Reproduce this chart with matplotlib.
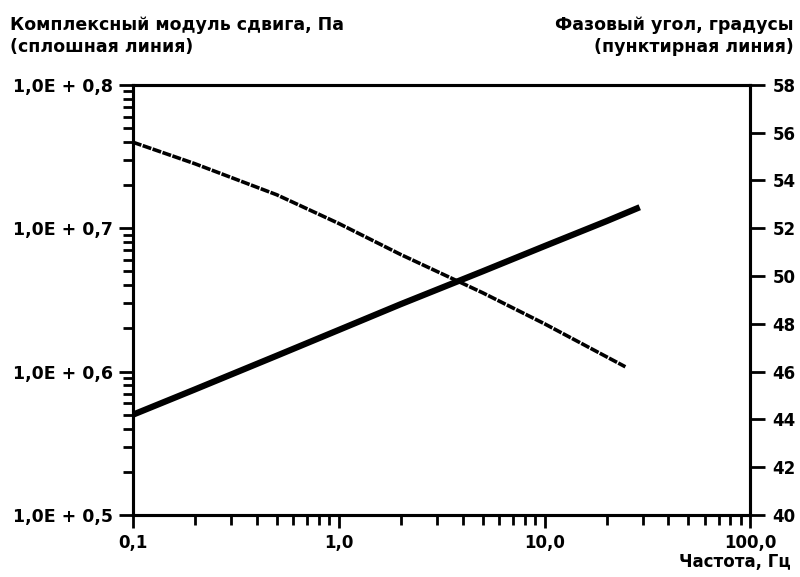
import matplotlib
matplotlib.use("Agg")
import matplotlib.pyplot as plt
from matplotlib.ticker import FixedLocator, LogLocator, NullFormatter, NullLocator

plt.rcParams['font.family'] = ['DejaVu Sans']
plt.rcParams['font.weight'] = 'bold'

# Data
freq_modulus = [0.1, 0.2, 0.5, 1.0, 2.0, 5.0, 10.0, 20.0, 29.0]
modulus = [5.0e5, 7.5e5, 1.29e6, 1.95e6, 2.95e6, 5.0e6, 7.5e6, 1.12e7, 1.40e7]
freq_phase = [0.1, 0.2, 0.5, 1.0, 2.0, 5.0, 10.0, 24.7]
phase = [55.6, 54.7, 53.4, 52.2, 50.9, 49.3, 48.0, 46.2]

x_ticks = [0.1, 1.0, 10.0, 100.0]
x_labels = ["0,1", "1,0", "10,0", "100,0"]
y_ticks = [1e5, 1e6, 1e7, 1e8]
y_labels = ["1,0E + 0,5", "1,0E + 0,6", "1,0E + 0,7", "1,0E + 0,8"]
phase_ticks = [40, 42, 44, 46, 48, 50, 52, 54, 56, 58]

fig = plt.figure(figsize=(8, 5.77), dpi=100)
ax = fig.add_axes([0.166, 0.1075, 0.772, 0.7455])
ax2 = ax.twinx()

ax.plot(freq_modulus, modulus, color='black', lw=4.5, solid_capstyle='butt')
ax2.plot(freq_phase, phase, color='black', lw=2.6, linestyle=(0, (2.5, 0.4)))

ax.set_xscale('log')
ax.set_yscale('log')
ax.set_xlim(0.1, 100)
ax.set_ylim(1e5, 1e8)
ax2.set_ylim(40, 58)

ax.xaxis.set_major_locator(FixedLocator(x_ticks))
ax.set_xticklabels(x_labels)
ax.xaxis.set_minor_locator(LogLocator(base=10, subs=range(2, 10)))
ax.xaxis.set_minor_formatter(NullFormatter())
ax.yaxis.set_major_locator(FixedLocator(y_ticks))
ax.set_yticklabels(y_labels)
ax.yaxis.set_minor_locator(LogLocator(base=10, subs=range(2, 10)))
ax.yaxis.set_minor_formatter(NullFormatter())
ax2.yaxis.set_major_locator(FixedLocator(phase_ticks))
ax2.set_yticklabels([str(t) for t in phase_ticks])
ax2.yaxis.set_minor_locator(NullLocator())

for a in (ax, ax2):
    for s in a.spines.values():
        s.set_linewidth(2.2)

ax.tick_params(axis='x', which='major', direction='out', length=9, width=2,
               labelsize=12, pad=5)
ax.tick_params(axis='y', which='major', direction='out', length=10, width=2,
               labelsize=12.5, pad=4)
ax.tick_params(axis='both', which='minor', direction='out', length=7, width=2)
ax2.tick_params(axis='y', which='major', direction='out', length=11, width=2,
                labelsize=12, pad=5)
for lab in ax.get_xticklabels() + ax.get_yticklabels() + ax2.get_yticklabels():
    lab.set_fontweight('bold')

fig.text(0.012, 0.972, "Комплексный модуль сдвига, Па\n(сплошная линия)",
         ha='left', va='top', fontsize=12.5, fontweight='bold', linespacing=1.25)
fig.text(0.992, 0.972, "Фазовый угол, градусы\n(пунктирная линия)",
         ha='right', va='top', fontsize=12.5, fontweight='bold', linespacing=1.25,
         multialignment='right')
fig.text(0.988, 0.01, "Частота, Гц", ha='right', va='bottom',
         fontsize=12, fontweight='bold')

fig.savefig("out.png", dpi=100)
